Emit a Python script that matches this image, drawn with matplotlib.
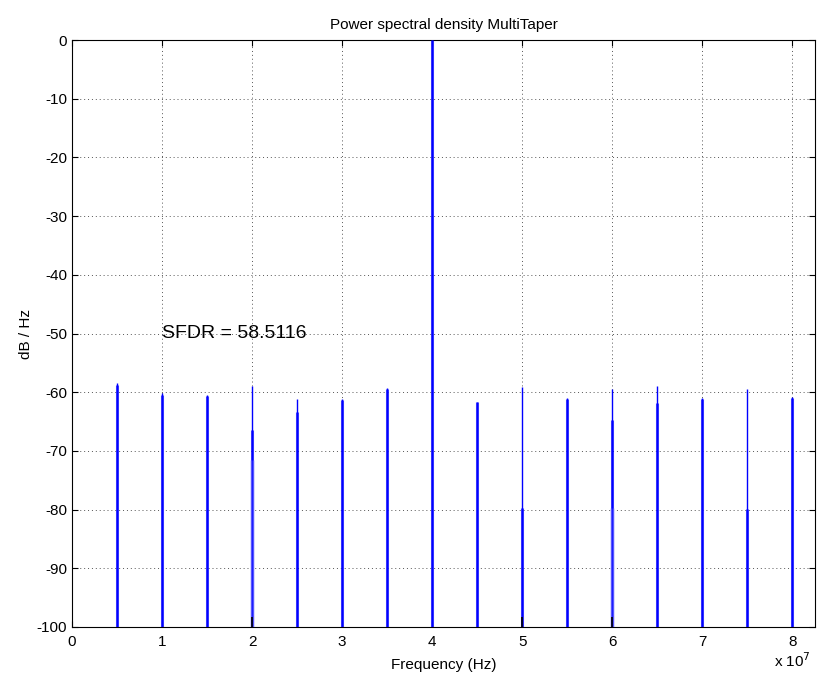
import matplotlib
matplotlib.use("Agg")
import matplotlib.pyplot as plt
import numpy as np

plt.rcParams["font.family"] = ["Liberation Sans", "DejaVu Sans"]
plt.rcParams["axes.unicode_minus"] = False

# spectral lines (Hz) and their levels (dB/Hz)
freqs = np.array([0.5, 1.0, 1.5, 2.0, 2.5, 3.0, 3.5, 4.0,
                  4.5, 5.0, 5.5, 6.0, 6.5, 7.0, 7.5, 8.0]) * 1e7
peak_db = [-58.5, -60.2, -60.5, -59.0, -61.1, -61.2, -59.3, 0.0,
           -61.6, -59.1, -61.0, -59.5, -59.0, -61.0, -59.4, -60.8]
# neighbouring bins (drawn wider under the tip)
side_db = [-58.8, -60.4, -60.6, -66.5, -63.3, -61.3, -59.5, 0.0,
           -61.7, -79.8, -61.1, -64.7, -61.8, -61.1, -79.9, -60.9]
third_db = {2.0e7: -71.5, 6.0e7: -79.8}
dip_freqs = [2.0e7, 5.0e7, 6.0e7]   # short dark traces at the floor

FS = 165e6
YMIN, YMAX = -100, 0
sfdr = 58.5116

fig = plt.figure(figsize=(8.18, 6.80), dpi=100)
ax = fig.add_axes([0.088, 0.078, 0.9083, 0.863])

bottom = YMIN
ax.vlines(freqs, bottom, peak_db, color="blue", lw=1.0, zorder=3)
ax.vlines(freqs, bottom, side_db, color="blue", lw=2.2, alpha=0.75, zorder=3)
for f, lv in third_db.items():
    ax.vlines([f - 1.2e5, f + 1.2e5], bottom, lv, color="#5555ff", lw=1.0, zorder=3)
ax.vlines(dip_freqs, bottom, -98.3, color="black", lw=1.2, zorder=4)

ax.set_xlim(0, FS / 2)
ax.set_ylim(YMIN, YMAX)
ax.set_xticks(np.arange(0, 9) * 1e7)
ax.set_xticklabels([str(i) for i in range(9)])
ax.set_yticks(np.arange(-100, 1, 10))
ax.tick_params(direction="in", top=True, right=True, labelsize=11, length=4, width=0.8)
ax.tick_params(axis="x", pad=6)
ax.grid(True, linestyle=(0, (1, 3)), color="#555555", lw=0.7)
ax.set_axisbelow(True)
for s in ax.spines.values():
    s.set_linewidth(0.8)

ax.set_title("Power spectral density MultiTaper", fontsize=11, pad=8)
ax.set_xlabel("Frequency (Hz)", fontsize=11, labelpad=6)
ax.set_ylabel("dB / Hz", fontsize=11)
ax.yaxis.set_label_coords(-0.052, 0.5)
ax.text(1.0e7, -50, f"SFDR = {sfdr:.4f}", fontsize=14, va="center", ha="left")
ax.text(0.945, -0.042, "x 10$^{7}$", transform=ax.transAxes, fontsize=11,
        ha="left", va="top")

fig.savefig("out.png", dpi=100)
